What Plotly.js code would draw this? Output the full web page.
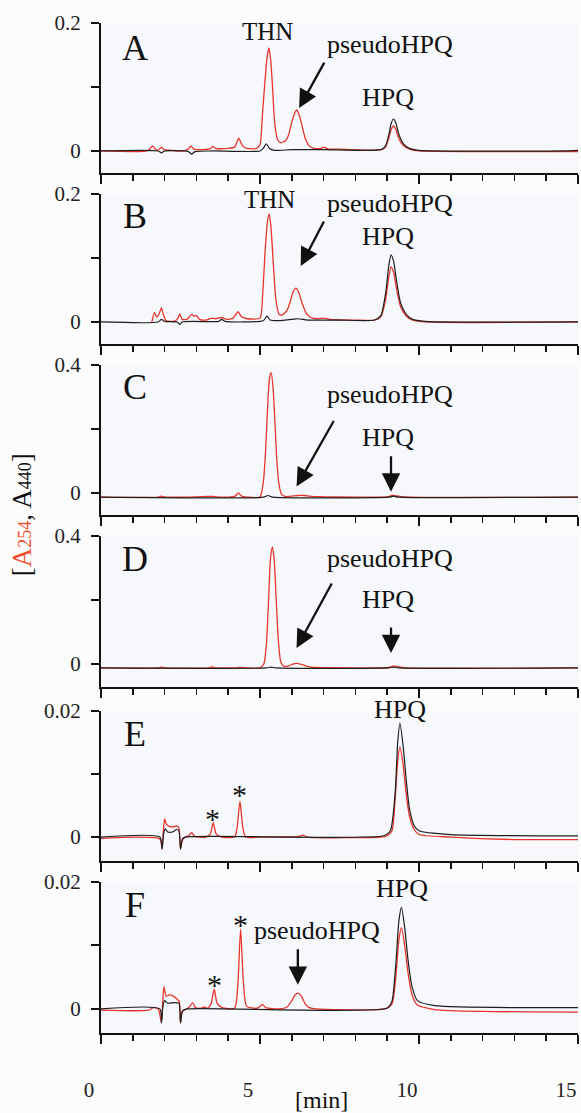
<!DOCTYPE html>
<html><head><meta charset="utf-8">
<script src="https://cdn.plot.ly/plotly-3.0.1.min.js"></script>
<style>html,body{margin:0;padding:0;background:#fcfcfd;}</style>
</head><body>
<div id="chart" style="width:581px;height:1113px;"></div>
<script>
// ---------- data (time [min], absorbance) ----------
const tRedA = [0,1.45,1.55,1.62,1.7,1.8,1.9,1.98,2.2,2.5,2.75,2.83,2.92,3.2,3.45,3.52,3.6,4.0,4.2,4.33,4.45,4.6,4.9,5.0,5.08,5.15,5.22,5.28,5.34,5.4,5.46,5.55,5.65,5.8,5.9,6.0,6.1,6.15,6.22,6.32,6.42,6.55,6.7,6.9,7.0,7.15,7.5,8.0,8.8,8.95,9.05,9.13,9.2,9.27,9.36,9.5,9.7,10.0,12,15];
const redA  = [0,0,0.004,0.008,0.003,0.001,0.006,0.002,0.001,0,0.003,0.008,0.003,0.002,0.004,0.007,0.004,0.004,0.006,0.020,0.008,0.004,0.004,0.010,0.060,0.105,0.145,0.161,0.140,0.095,0.045,0.018,0.013,0.016,0.025,0.045,0.060,0.064,0.058,0.040,0.020,0.008,0.004,0.004,0.006,0.003,0.003,0.002,0.002,0.006,0.020,0.034,0.039,0.034,0.020,0.009,0.003,0,-0.001,-0.001];
const tBlkA = [0,1.8,1.9,2.0,2.75,2.85,2.95,3.5,5.0,5.1,5.2,5.3,5.45,6.0,7.0,8.8,8.95,9.05,9.13,9.2,9.27,9.36,9.5,9.7,10.0,14.5,15];
const blkA  = [0,0,-0.003,0,-0.001,-0.005,-0.001,0,0,0.004,0.011,0.004,0.001,0.002,0.002,0.002,0.008,0.025,0.044,0.050,0.044,0.027,0.012,0.004,0.001,0,0.001];

const tRedB = [1.6,1.68,1.75,1.82,1.9,1.97,2.05,2.3,2.42,2.48,2.55,2.7,2.85,2.92,3.0,3.1,3.3,3.48,3.6,3.8,3.95,4.15,4.31,4.42,4.6,5.0,5.08,5.16,5.23,5.29,5.35,5.42,5.5,5.6,5.7,5.85,5.95,6.05,6.13,6.22,6.32,6.45,6.6,6.8,7.0,7.2,8.0,8.6,8.8,8.95,9.05,9.12,9.2,9.3,9.42,9.6,9.8,10.2,15];
const redB  = [0,0.015,0.008,0.012,0.022,0.010,0.002,0.001,0.006,0.0125,0.004,0.004,0.012,0.009,0.010,0.004,0.003,0.006,0.005,0.007,0.004,0.006,0.016,0.008,0.005,0.006,0.040,0.110,0.155,0.169,0.145,0.090,0.035,0.012,0.011,0.018,0.032,0.048,0.053,0.046,0.030,0.014,0.007,0.005,0.006,0.004,0.003,0.003,0.008,0.035,0.070,0.086,0.078,0.050,0.024,0.009,0.003,0,0];
const tBlkB = [0,1.8,1.9,2.0,2.4,2.48,2.55,3.7,3.8,3.9,5.1,5.22,5.32,5.6,6.0,6.2,6.5,7.5,8.6,8.8,8.95,9.05,9.12,9.2,9.3,9.42,9.6,9.8,10.2,15];
const blkB  = [0,0,0.004,0.001,0,-0.004,0,0.001,0.004,0.001,0.002,0.009,0.003,0.002,0.004,0.005,0.003,0.003,0.003,0.010,0.045,0.088,0.105,0.095,0.062,0.030,0.012,0.004,0.001,0];

const tRedC = [0,1.8,1.9,2.0,2.2,2.8,3.0,3.5,3.6,4.0,4.22,4.32,4.42,4.6,5.0,5.1,5.17,5.24,5.3,5.35,5.41,5.47,5.53,5.6,5.68,5.8,6.2,6.4,6.6,7.0,8.0,9.0,9.15,9.3,9.5,15];
const redC  = [-0.013,-0.013,-0.010,-0.012,-0.013,-0.013,-0.012,-0.011,-0.012,-0.013,-0.010,0.000,-0.010,-0.013,-0.013,0.030,0.120,0.270,0.360,0.376,0.330,0.220,0.100,0.025,-0.005,-0.011,-0.008,-0.008,-0.011,-0.012,-0.013,-0.012,-0.008,-0.009,-0.012,-0.013];
const tBlkC = [0,5.1,5.25,5.4,9.05,9.2,9.35,15];
const blkC  = [-0.013,-0.013,-0.008,-0.013,-0.013,-0.010,-0.013,-0.013];

const tRedD = [0,1.8,1.9,2.0,2.3,3.4,3.5,3.6,4.3,4.35,5.0,5.12,5.2,5.27,5.33,5.39,5.45,5.51,5.58,5.65,5.75,5.9,6.05,6.15,6.3,6.5,6.8,8.0,9.05,9.2,9.35,9.6,15];
const redD  = [-0.0125,-0.0125,-0.010,-0.012,-0.013,-0.012,-0.009,-0.012,-0.012,-0.011,-0.012,0.000,0.060,0.200,0.330,0.366,0.320,0.200,0.070,0.008,-0.007,-0.006,0.000,0.002,-0.001,-0.008,-0.011,-0.012,-0.011,-0.006,-0.009,-0.012,-0.0125];
const tBlkD = [0,5.2,5.35,5.5,9.05,9.2,9.35,15];
const blkD  = [-0.0125,-0.0125,-0.010,-0.0125,-0.0125,-0.010,-0.0125,-0.0125];

const tRedE = [0,1.85,1.92,1.96,2.0,2.06,2.15,2.28,2.38,2.45,2.5,2.56,2.65,2.75,2.85,2.95,3.3,3.44,3.53,3.62,3.8,4.2,4.28,4.37,4.46,4.55,5.0,6.2,6.35,6.5,8.8,9.0,9.15,9.25,9.33,9.4,9.5,9.6,9.7,9.85,10.0,11,13,15];
const redE  = [-0.0002,-0.0003,-0.0019,0.0010,0.0029,0.0020,0.0017,0.0016,0.0018,0.0014,-0.0019,-0.0005,0,0.0002,0.0007,0.0001,0,0.0005,0.0023,0.0005,0,0,0.0015,0.0057,0.0015,0,0,0.0001,0.0003,0,0,0.0002,0.0010,0.0060,0.0120,0.0143,0.0115,0.0068,0.0033,0.0012,0.0004,0,-0.0004,-0.0004];
const tBlkE = [0,1.85,1.92,1.97,2.02,2.1,2.25,2.38,2.45,2.5,2.56,2.65,8.9,9.1,9.25,9.33,9.4,9.5,9.6,9.7,9.85,10.0,11,15];
const blkE  = [0,0,-0.0019,0.0005,0.0013,0.0008,0.0008,0.0012,0.0010,-0.0019,-0.0003,0,0.0002,0.0010,0.0070,0.0150,0.0181,0.0145,0.0090,0.0045,0.0018,0.0010,0.0004,0.0002];

const tRedF = [0,1.5,1.65,1.8,1.9,1.94,1.98,2.05,2.15,2.25,2.38,2.46,2.5,2.56,2.7,2.8,2.88,2.97,3.15,3.25,3.35,3.46,3.56,3.65,3.8,4.2,4.3,4.39,4.48,4.58,4.9,5.0,5.08,5.18,5.6,5.85,6.0,6.1,6.2,6.3,6.42,6.55,6.8,8.9,9.15,9.27,9.37,9.45,9.55,9.66,9.78,9.95,10.5,12,15];
const redF  = [-0.0002,-0.0002,0.0002,0,-0.0021,0.0010,0.0035,0.0020,0.0022,0.0021,0.0016,0.0012,-0.0022,-0.0004,0,0.0004,0.0010,0.0002,0.0001,0.0003,0.0001,0.0008,0.0031,0.0009,0.0002,0.0001,0.0035,0.0126,0.0040,0.0004,0.0001,0.0004,0.0007,0.0002,0,0.0003,0.0013,0.0022,0.0025,0.0020,0.0008,0.0002,0,0,0.0008,0.0050,0.0110,0.0128,0.0100,0.0055,0.0022,0.0006,-0.0001,-0.0004,-0.0005];
const tBlkF = [0,1.85,1.9,1.95,2.0,2.1,2.3,2.45,2.5,2.56,2.7,9.0,9.15,9.27,9.37,9.45,9.55,9.66,9.78,9.95,10.5,15];
const blkF  = [0,0,-0.0022,0.0005,0.0013,0.0009,0.0010,0.0009,-0.0022,-0.0003,0,0.0001,0.0012,0.0070,0.0140,0.0160,0.0128,0.0075,0.0035,0.0013,0.0005,0.0002];

const panelLetters = ['A','B','C','D','E','F'];
const yTopVals = [0.2,0.2,0.4,0.4,0.02,0.02];
const yTopText = ['0.2','0.2','0.4','0.4','0.02','0.02'];
const xTickVals = [0,5,10,15];
const xTickText = ['0','5','10','15'];

// ---------- styling ----------
const RED = '#e8342c', BLK = '#1e1e1e', AX = '#111';
const FONT = 'Liberation Serif';
const reds = [[tRedA,redA],[tRedB,redB],[tRedC,redC],[tRedD,redD],[tRedE,redE],[tRedF,redF]];
const blks = [[tBlkA,blkA],[tBlkB,blkB],[tBlkC,blkC],[tBlkD,blkD],[tBlkE,blkE],[tBlkF,blkF]];
const domains = [[0.8515,1],[0.6822,0.8307],[0.5129,0.6614],[0.3426,0.4921],[0.1703,0.3188],[0,0.1495]];
const yBottoms = [-0.0344,-0.0344,-0.0688,-0.0719,-0.0038,-0.0038];

const data = [];
const layout = {
  width:581, height:1113,
  margin:{l:101,r:3,t:23,b:80},
  paper_bgcolor:'#fcfcfd', plot_bgcolor:'#f6f8fb',
  showlegend:false,
  font:{family:FONT, color:'#222', size:20},
  annotations:[]
};
for (let i=0;i<6;i++){
  const s = i===0?'':String(i+1);
  data.push({x:reds[i][0], y:reds[i][1], xaxis:'x'+s, yaxis:'y'+s, type:'scatter', mode:'lines',
    line:{color:RED, width:1.3, shape:'spline', smoothing:0.6}, hoverinfo:'skip'});
  data.push({x:blks[i][0], y:blks[i][1], xaxis:'x'+s, yaxis:'y'+s, type:'scatter', mode:'lines',
    line:{color:BLK, width:1.2, shape:'spline', smoothing:0.6}, hoverinfo:'skip'});
  layout['xaxis'+s] = {
    domain:[0,1], anchor:'y'+s, range:[0,15], fixedrange:true,
    showline:true, linecolor:AX, linewidth:2, zeroline:false, showgrid:false,
    tickmode:'array', tickvals:xTickVals, ticktext:xTickText,
    ticks:'outside', ticklen:9, tickwidth:2, tickcolor:AX,
    minor:{tickmode:'linear', tick0:0, dtick:1, ticks:'outside', ticklen:6, tickwidth:1.6, tickcolor:AX, showgrid:false},
    showticklabels: i===5, tickfont:{family:FONT, size:21, color:'#222'},
    ticklabelstandoff:28, ticklabelshift:-12, ticklabeloverflow:'allow'
  };
  const top = yTopVals[i];
  layout['yaxis'+s] = {
    domain:domains[i], anchor:'x'+s, range:[yBottoms[i], top], fixedrange:true,
    showline:true, linecolor:AX, linewidth:2, zeroline:false, showgrid:false,
    tickmode:'array', tickvals:[0, top/2, top], ticktext:['0','',yTopText[i]],
    ticks:'outside', ticklen:8, tickwidth:2, tickcolor:AX,
    tickfont:{family:FONT, size:21, color:'#222'}, ticklabelstandoff:6
  };
  layout.annotations.push({xref:'x'+s+' domain', yref:'y'+s+' domain', x:0.071, y:(i===0?0.83:0.85),
    text:panelLetters[i], showarrow:false, font:{family:FONT,size:36,color:'#111'}, xanchor:'center', yanchor:'middle'});
}

function txt(ax, x, y, t, size, yshift){
  layout.annotations.push({xref:'x'+ax, yref:'y'+ax, x:x, y:y, text:t, showarrow:false, yshift:yshift||0,
    font:{family:FONT, size:size||26, color:'#111'}, xanchor:'center', yanchor:'middle'});
}
function arrow(ax, x, y, dx, dy){
  layout.annotations.push({xref:'x'+ax, yref:'y'+ax, x:x, y:y, ax:dx, ay:dy, text:'', showarrow:true,
    arrowhead:2, arrowsize:1.6, arrowwidth:2.3, arrowcolor:'#111', standoff:0, startstandoff:0});
}
// Panel A
txt('', 5.25, 0.186, 'THN', 25);
txt('', 9.09, 0.166, 'pseudoHPQ');
txt('', 9.03, 0.083, 'HPQ');
arrow('', 6.23, 0.067, 26, -47);
// Panel B
txt('2', 5.31, 0.191, 'THN', 25);
txt('2', 9.09, 0.185, 'pseudoHPQ');
txt('2', 9.03, 0.134, 'HPQ');
arrow('2', 6.28, 0.0875, 24, -46);
// Panel C
txt('3', 9.09, 0.309, 'pseudoHPQ');
txt('3', 9.03, 0.173, 'HPQ');
arrow('3', 6.15, 0.020, 38, -67);
arrow('3', 9.12, 0.004, 0, -37);
// Panel D
txt('4', 9.09, 0.329, 'pseudoHPQ');
txt('4', 9.03, 0.201, 'HPQ');
arrow('4', 6.15, 0.050, 36, -66);
arrow('4', 9.12, 0.034, 0, -27);
// Panel E
txt('5', 9.4, 0.0199, 'HPQ', 26, 2);
txt('5', 3.52, 0.0030, '*', 30);
txt('5', 4.37, 0.0067, '*', 30);
// Panel F
txt('6', 9.45, 0.0190, 'HPQ');
txt('6', 6.79, 0.0123, 'pseudoHPQ');
arrow('6', 6.19, 0.0038, 0, -37);
txt('6', 3.56, 0.0038, '*', 30);
txt('6', 4.39, 0.0133, '*', 30);

// axis titles
layout.annotations.push({xref:'paper', yref:'paper', x:0.463, y:-0.066, text:'[min]', showarrow:false,
  font:{family:FONT, size:24, color:'#111'}, xanchor:'center', yanchor:'middle'});
layout.annotations.push({xref:'paper', yref:'paper', x:-0.165, y:0.513, textangle:-90,
  text:'[<span style="color:#ee5030">A</span><span style="color:#ee5030;font-size:18px">254</span>, A<span style="font-size:18px">440</span>]',
  showarrow:false, font:{family:FONT, size:27, color:'#111'}, xanchor:'center', yanchor:'middle'});

Plotly.newPlot('chart', data, layout, {staticPlot:true, displayModeBar:false});
</script>
</body></html>
